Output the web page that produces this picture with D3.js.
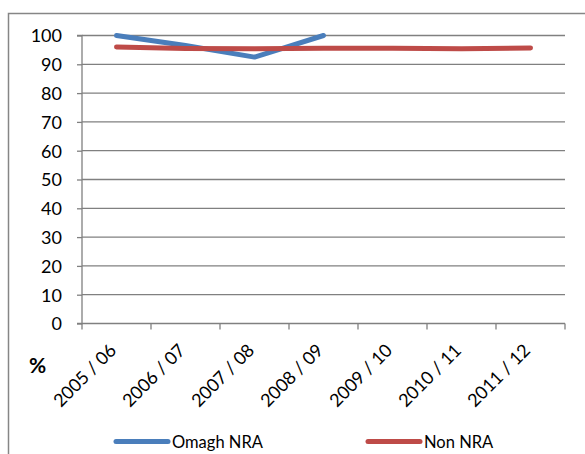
<!DOCTYPE html>
<html>
<head>
<meta charset="utf-8">
<script src="https://cdn.jsdelivr.net/npm/d3@7"></script>
<style>
  body { margin: 0; background: #fff; }
  text { font-family: Lato, "Open Sans", sans-serif; fill: #000; }
</style>
</head>
<body>
<div id="chart"></div>
<script>
// Data
var years = ["2005 / 06", "2006 / 07", "2007 / 08", "2008 / 09", "2009 / 10", "2010 / 11", "2011 / 12"];
var omaghNRA = [100, 96.5, 92.5, 100, null, null, null];
var nonNRA = [96, 95.5, 95.4, 95.6, 95.6, 95.4, 95.7];
var yTicks = [0, 10, 20, 30, 40, 50, 60, 70, 80, 90, 100];

var svgWidth = 585;
var svgHeight = 454;

var chartMargin = { top: 35.5, right: 20, bottom: 130, left: 82 };
var chartWidth = 565 - chartMargin.left;
var chartHeight = 323.5 - chartMargin.top;

var svg = d3.select("#chart")
  .append("svg")
  .attr("width", svgWidth)
  .attr("height", svgHeight);

// outer frame
svg.append("rect")
  .attr("x", 8.5)
  .attr("y", 13.5)
  .attr("width", 600)
  .attr("height", 460)
  .attr("fill", "none")
  .attr("stroke", "#868686")
  .attr("stroke-width", 1.5);

var chartGroup = svg.append("g")
  .attr("transform", `translate(${chartMargin.left}, ${chartMargin.top})`);

var xBand = d3.scaleBand()
  .domain(years)
  .range([0, chartWidth]);

var yLinearScale = d3.scaleLinear()
  .domain([0, 100])
  .range([chartHeight, 0]);

// gridlines
chartGroup.append("g")
  .selectAll("line")
  .data(yTicks.filter(d => d > 0))
  .enter()
  .append("line")
  .attr("x1", 0)
  .attr("x2", chartWidth)
  .attr("y1", d => yLinearScale(d))
  .attr("y2", d => yLinearScale(d))
  .attr("stroke", "#808080")
  .attr("stroke-width", 1.3);

// left axis
var leftAxis = d3.axisLeft(yLinearScale)
  .tickValues(yTicks)
  .tickSize(5)
  .tickPadding(15);

var yAxisG = chartGroup.append("g").call(leftAxis);
yAxisG.selectAll("path, line").attr("stroke", "#808080").attr("stroke-width", 1.3);
yAxisG.select(".domain").attr("d", `M-5,${chartHeight}H0V0H-5`);
yAxisG.selectAll("text")
  .attr("dy", "0.36em")
  .style("font-family", "Lato, sans-serif")
  .style("font-size", "18px");

// bottom axis with ticks at band edges
var xAxisG = chartGroup.append("g")
  .attr("transform", `translate(0, ${chartHeight})`);

xAxisG.append("line")
  .attr("x1", 0)
  .attr("x2", chartWidth)
  .attr("stroke", "#808080")
  .attr("stroke-width", 1.3);

var edges = years.map(d => xBand(d)).concat([chartWidth]);
xAxisG.selectAll(".edge")
  .data(edges)
  .enter()
  .append("line")
  .attr("class", "edge")
  .attr("x1", d => d)
  .attr("x2", d => d)
  .attr("y1", 0)
  .attr("y2", 6)
  .attr("stroke", "#808080")
  .attr("stroke-width", 1.3);

xAxisG.selectAll(".xlabel")
  .data(years)
  .enter()
  .append("text")
  .attr("class", "xlabel")
  .attr("text-anchor", "end")
  .attr("transform", d => `translate(${xBand(d) + xBand.bandwidth() / 2 + 1}, 28) rotate(-45)`)
  .style("font-size", "18px")
  .text(d => d);

// lines
var line = d3.line()
  .defined(d => d.v != null)
  .x(d => xBand(d.year) + xBand.bandwidth() / 2)
  .y(d => yLinearScale(d.v));

chartGroup.append("path")
  .datum(years.map((y, i) => ({ year: y, v: omaghNRA[i] })))
  .attr("d", line)
  .attr("fill", "none")
  .attr("stroke", "#4a7ebb")
  .attr("stroke-width", 5)
  .attr("stroke-linejoin", "round")
  .attr("stroke-linecap", "round");

chartGroup.append("path")
  .datum(years.map((y, i) => ({ year: y, v: nonNRA[i] })))
  .attr("d", line)
  .attr("fill", "none")
  .attr("stroke", "#be4b48")
  .attr("stroke-width", 5)
  .attr("stroke-linejoin", "round")
  .attr("stroke-linecap", "round");

// % label
svg.append("text")
  .attr("x", 29)
  .attr("y", 373)
  .style("font-size", "21px")
  .style("font-weight", "bold")
  .text("%");

// legend
var legendItems = [
  { name: "Omagh NRA", color: "#4a7ebb", x: 116 },
  { name: "Non NRA", color: "#be4b48", x: 368 }
];

var legend = svg.selectAll(".legend")
  .data(legendItems)
  .enter()
  .append("g")
  .attr("class", "legend")
  .attr("transform", d => `translate(${d.x}, 441.5)`);

legend.append("line")
  .attr("x1", 0)
  .attr("x2", 52)
  .attr("stroke", d => d.color)
  .attr("stroke-width", 5)
  .attr("stroke-linecap", "round");

legend.append("text")
  .attr("x", 56)
  .attr("y", 6)
  .style("font-size", "16.5px")
  .text(d => d.name);
</script>
</body>
</html>
